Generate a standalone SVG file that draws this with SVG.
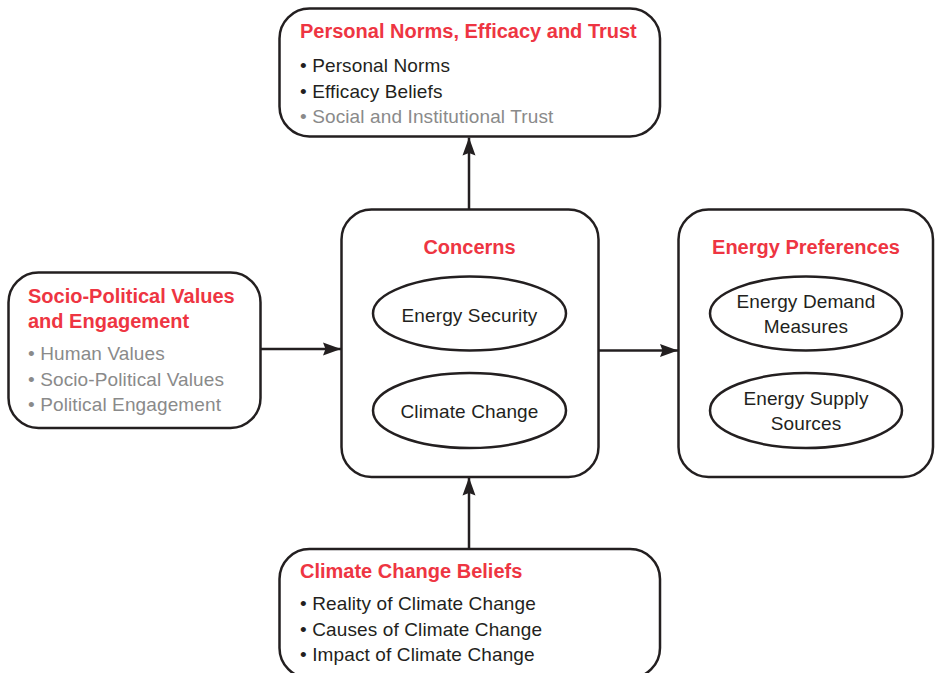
<svg xmlns="http://www.w3.org/2000/svg" width="935" height="673" viewBox="0 0 935 673">
  <defs>
    <style>
      .box { fill: #ffffff; stroke: #231f20; stroke-width: 2.5; }
      .oval { fill: #ffffff; stroke: #231f20; stroke-width: 2.5; }
      .edge { stroke: #231f20; stroke-width: 2.5; fill: none; }
      .title { font-family: "Liberation Sans", Arial, sans-serif; font-weight: bold; font-size: 20px; fill: #ee3542; }
      .item { font-family: "Liberation Sans", Arial, sans-serif; font-size: 19px; letter-spacing: 0.12px; fill: #231f20; }
      .muted { fill: #8a8a8a; }
      .mid { text-anchor: middle; }
    </style>
    <marker id="arrow" viewBox="0 0 18 14" refX="18" refY="7" markerWidth="18" markerHeight="14" markerUnits="userSpaceOnUse" orient="auto">
      <path d="M0,0.5 L18,7 L0,13.5 L2.5,7 Z" fill="#231f20"/>
    </marker>
  </defs>

  <!-- connectors -->
  <g id="connectors">
    <line class="edge" x1="469" y1="209" x2="469" y2="137.5" marker-end="url(#arrow)"/>
    <line class="edge" x1="261" y1="349" x2="341" y2="349" marker-end="url(#arrow)"/>
    <line class="edge" x1="598" y1="350.5" x2="678" y2="350.5" marker-end="url(#arrow)"/>
    <line class="edge" x1="469" y1="549" x2="469" y2="477.5" marker-end="url(#arrow)"/>
  </g>

  <!-- Personal Norms, Efficacy and Trust -->
  <g id="norms">
    <rect class="box" x="279.5" y="8.5" width="380.5" height="128" rx="30" ry="30"/>
    <text class="title" x="300" y="38">Personal Norms, Efficacy and Trust</text>
    <text class="item" x="300" y="72">• Personal Norms</text>
    <text class="item" x="300" y="97.5">• Efficacy Beliefs</text>
    <text class="item muted" x="300" y="123">• Social and Institutional Trust</text>
  </g>

  <!-- Socio-Political Values and Engagement -->
  <g id="values">
    <rect class="box" x="8.5" y="272.5" width="252" height="155.5" rx="30" ry="30"/>
    <text class="title" x="28" y="303">Socio-Political Values</text>
    <text class="title" x="28" y="328">and Engagement</text>
    <text class="item muted" x="28" y="360">• Human Values</text>
    <text class="item muted" x="28" y="385.5">• Socio-Political Values</text>
    <text class="item muted" x="28" y="411">• Political Engagement</text>
  </g>

  <!-- Concerns -->
  <g id="concerns">
    <rect class="box" x="341.5" y="209.5" width="257" height="267.5" rx="30" ry="30"/>
    <text class="title mid" x="469.5" y="254">Concerns</text>
    <g id="energy-security">
      <ellipse class="oval" cx="469.5" cy="313.5" rx="96.5" ry="37"/>
      <text class="item mid" x="469.5" y="321.5">Energy Security</text>
    </g>
    <g id="climate-change">
      <ellipse class="oval" cx="469.5" cy="410.5" rx="96.5" ry="37.5"/>
      <text class="item mid" x="469.5" y="418">Climate Change</text>
    </g>
  </g>

  <!-- Energy Preferences -->
  <g id="preferences">
    <rect class="box" x="678.5" y="209.5" width="254.5" height="267.5" rx="30" ry="30"/>
    <text class="title mid" x="806" y="254">Energy Preferences</text>
    <g id="demand">
      <ellipse class="oval" cx="806" cy="313.5" rx="96" ry="37"/>
      <text class="item mid" x="806" y="308">Energy Demand</text>
      <text class="item mid" x="806" y="333">Measures</text>
    </g>
    <g id="supply">
      <ellipse class="oval" cx="806" cy="410.5" rx="96" ry="37.5"/>
      <text class="item mid" x="806" y="405">Energy Supply</text>
      <text class="item mid" x="806" y="430">Sources</text>
    </g>
  </g>

  <!-- Climate Change Beliefs -->
  <g id="beliefs">
    <rect class="box" x="279.5" y="549" width="380.5" height="129" rx="30" ry="30"/>
    <text class="title" x="300" y="578">Climate Change Beliefs</text>
    <text class="item" x="300" y="610">• Reality of Climate Change</text>
    <text class="item" x="300" y="635.5">• Causes of Climate Change</text>
    <text class="item" x="300" y="661">• Impact of Climate Change</text>
  </g>
</svg>
